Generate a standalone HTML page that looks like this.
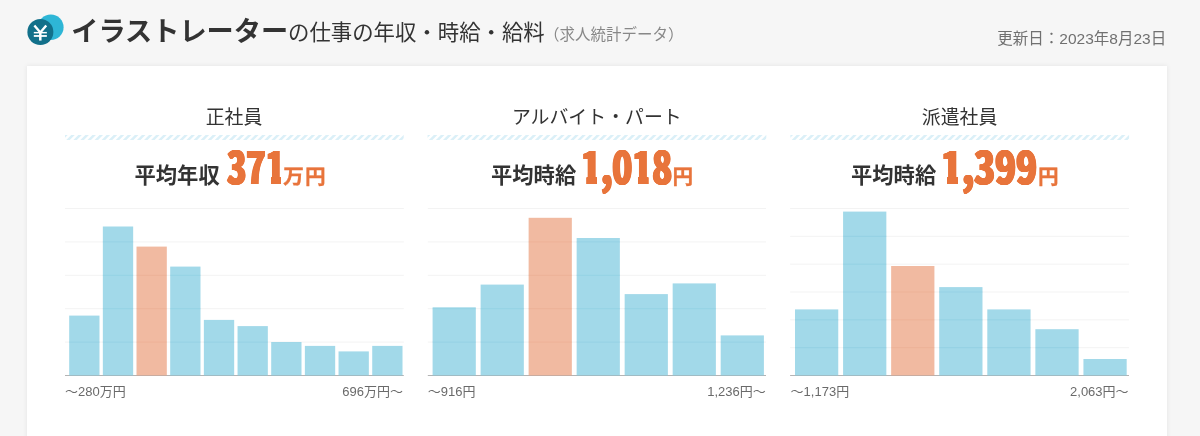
<!DOCTYPE html>
<html lang="ja">
<head>
<meta charset="utf-8">
<title>イラストレーターの仕事の年収・時給・給料</title>
<style>
html,body{margin:0;padding:0;width:1200px;height:436px;overflow:hidden}
body{width:1200px;height:436px;overflow:hidden;background:#f6f6f6;position:relative;
 font-family:"Liberation Sans","Noto Sans CJK JP",sans-serif;color:#333}
#wrap{position:absolute;left:0;top:0;width:1200px;height:436px;overflow:hidden;will-change:transform}
.abs{position:absolute;white-space:nowrap}
.yen{position:absolute;left:20px;top:5px;width:50px;height:45px}
.t1{left:71.2px;top:12px;font-size:27.2px;font-weight:700;line-height:40px;letter-spacing:0}
.t2{left:288px;top:13px;font-size:21.4px;line-height:40px}
.t3{left:544.1px;top:18px;font-size:15.5px;line-height:34px;color:#888}
.date{right:33.8px;top:29px;font-size:15.5px;line-height:20px;color:#707070}
.card{position:absolute;left:27px;top:66px;width:1140px;height:400px;background:#fff;box-shadow:0 0 5px rgba(0,0,0,.08)}
.pt{top:104px;width:338px;text-align:center;font-size:18.9px;line-height:27px;color:#333}
.stripe{position:absolute;top:135px}
.lab{position:absolute;top:165px;font-size:21.3px;font-weight:700;line-height:22px;color:#333}
.num{position:absolute;top:135px;font-family:"Noto Sans CJK JP","Liberation Sans",sans-serif;font-size:44.5px;line-height:60px;font-weight:900;color:#e8743b;transform-origin:0 0}
.one{display:inline-block;clip-path:polygon(-20% 0,120% 0,120% 69%,80% 69%,80% 100%,29% 100%,29% 69%,-20% 69%)}
.unit{position:absolute;top:166px;font-size:20.6px;font-weight:700;line-height:21px;color:#e8743b;-webkit-text-stroke:.35px #e8743b}
.chart{position:absolute}
.ax{top:383px;font-size:13px;line-height:18px;color:#6a6a6a}
</style>
</head>
<body>
<div id="wrap">
<svg class="yen" width="50" height="45" viewBox="0 0 50 45"><circle cx="30.8" cy="22.2" r="12.8" fill="#2eb6d6"/><circle cx="20.36" cy="27.06" r="13" fill="#12708a"/><g transform="translate(7.36 14.06)" fill="none" stroke="#fff" stroke-linecap="butt"><path d="M7.0 6.4 L12.95 13.4 L18.9 6.4" stroke-width="2.4"/><path d="M12.95 12.6 V21.5" stroke-width="2.5"/><path d="M6.45 13.6 H19.5" stroke-width="1.5"/><path d="M6.45 16.9 H19.5" stroke-width="1.8"/></g></svg>
<div class="abs t1">イラストレーター</div>
<div class="abs t2">の仕事の年収・時給・給料</div>
<div class="abs t3">（求人統計データ）</div>
<div class="abs date">更新日：2023年8月23日</div>
<div class="card"></div>

<div class="abs pt" style="left:65px">正社員</div>
<div class="abs pt" style="left:427.8px">アルバイト・パート</div>
<div class="abs pt" style="left:790.6px">派遣社員</div>
<svg class="stripe" style="left:65px" width="342" height="5" viewBox="0 0 342 5"><clipPath id="sc65"><rect x="0.00" y="0" width="338.7" height="5"/></clipPath><path clip-path="url(#sc65)" fill="#dbf0f8" d="M-5.84 5.0L-2.30 5.0L2.70 0L-0.84 0ZM1.23 5.0L4.77 5.0L9.77 0L6.23 0ZM8.30 5.0L11.84 5.0L16.84 0L13.30 0ZM15.37 5.0L18.91 5.0L23.91 0L20.37 0ZM22.45 5.0L25.98 5.0L30.98 0L27.45 0ZM29.52 5.0L33.05 5.0L38.05 0L34.52 0ZM36.59 5.0L40.12 5.0L45.12 0L41.59 0ZM43.66 5.0L47.19 5.0L52.19 0L48.66 0ZM50.73 5.0L54.26 5.0L59.26 0L55.73 0ZM57.80 5.0L61.34 5.0L66.34 0L62.80 0ZM64.87 5.0L68.41 5.0L73.41 0L69.87 0ZM71.94 5.0L75.48 5.0L80.48 0L76.94 0ZM79.01 5.0L82.55 5.0L87.55 0L84.01 0ZM86.08 5.0L89.62 5.0L94.62 0L91.08 0ZM93.16 5.0L96.69 5.0L101.69 0L98.16 0ZM100.23 5.0L103.76 5.0L108.76 0L105.23 0ZM107.30 5.0L110.83 5.0L115.83 0L112.30 0ZM114.37 5.0L117.90 5.0L122.90 0L119.37 0ZM121.44 5.0L124.97 5.0L129.97 0L126.44 0ZM128.51 5.0L132.05 5.0L137.05 0L133.51 0ZM135.58 5.0L139.12 5.0L144.12 0L140.58 0ZM142.65 5.0L146.19 5.0L151.19 0L147.65 0ZM149.72 5.0L153.26 5.0L158.26 0L154.72 0ZM156.79 5.0L160.33 5.0L165.33 0L161.79 0ZM163.87 5.0L167.40 5.0L172.40 0L168.87 0ZM170.94 5.0L174.47 5.0L179.47 0L175.94 0ZM178.01 5.0L181.54 5.0L186.54 0L183.01 0ZM185.08 5.0L188.61 5.0L193.61 0L190.08 0ZM192.15 5.0L195.68 5.0L200.68 0L197.15 0ZM199.22 5.0L202.76 5.0L207.76 0L204.22 0ZM206.29 5.0L209.83 5.0L214.83 0L211.29 0ZM213.36 5.0L216.90 5.0L221.90 0L218.36 0ZM220.43 5.0L223.97 5.0L228.97 0L225.43 0ZM227.50 5.0L231.04 5.0L236.04 0L232.50 0ZM234.58 5.0L238.11 5.0L243.11 0L239.58 0ZM241.65 5.0L245.18 5.0L250.18 0L246.65 0ZM248.72 5.0L252.25 5.0L257.25 0L253.72 0ZM255.79 5.0L259.32 5.0L264.32 0L260.79 0ZM262.86 5.0L266.39 5.0L271.39 0L267.86 0ZM269.93 5.0L273.47 5.0L278.47 0L274.93 0ZM277.00 5.0L280.54 5.0L285.54 0L282.00 0ZM284.07 5.0L287.61 5.0L292.61 0L289.07 0ZM291.14 5.0L294.68 5.0L299.68 0L296.14 0ZM298.21 5.0L301.75 5.0L306.75 0L303.21 0ZM305.29 5.0L308.82 5.0L313.82 0L310.29 0ZM312.36 5.0L315.89 5.0L320.89 0L317.36 0ZM319.43 5.0L322.96 5.0L327.96 0L324.43 0ZM326.50 5.0L330.03 5.0L335.03 0L331.50 0ZM333.57 5.0L337.10 5.0L342.10 0L338.57 0Z"/></svg>
<svg class="stripe" style="left:427px" width="342" height="5" viewBox="0 0 342 5"><clipPath id="sc427"><rect x="0.60" y="0" width="338.7" height="5"/></clipPath><path clip-path="url(#sc427)" fill="#dbf0f8" d="M-5.24 5.0L-1.70 5.0L3.30 0L-0.24 0ZM1.83 5.0L5.37 5.0L10.37 0L6.83 0ZM8.90 5.0L12.44 5.0L17.44 0L13.90 0ZM15.97 5.0L19.51 5.0L24.51 0L20.97 0ZM23.05 5.0L26.58 5.0L31.58 0L28.05 0ZM30.12 5.0L33.65 5.0L38.65 0L35.12 0ZM37.19 5.0L40.72 5.0L45.72 0L42.19 0ZM44.26 5.0L47.79 5.0L52.79 0L49.26 0ZM51.33 5.0L54.86 5.0L59.86 0L56.33 0ZM58.40 5.0L61.94 5.0L66.94 0L63.40 0ZM65.47 5.0L69.01 5.0L74.01 0L70.47 0ZM72.54 5.0L76.08 5.0L81.08 0L77.54 0ZM79.61 5.0L83.15 5.0L88.15 0L84.61 0ZM86.68 5.0L90.22 5.0L95.22 0L91.68 0ZM93.76 5.0L97.29 5.0L102.29 0L98.76 0ZM100.83 5.0L104.36 5.0L109.36 0L105.83 0ZM107.90 5.0L111.43 5.0L116.43 0L112.90 0ZM114.97 5.0L118.50 5.0L123.50 0L119.97 0ZM122.04 5.0L125.57 5.0L130.57 0L127.04 0ZM129.11 5.0L132.65 5.0L137.65 0L134.11 0ZM136.18 5.0L139.72 5.0L144.72 0L141.18 0ZM143.25 5.0L146.79 5.0L151.79 0L148.25 0ZM150.32 5.0L153.86 5.0L158.86 0L155.32 0ZM157.39 5.0L160.93 5.0L165.93 0L162.39 0ZM164.47 5.0L168.00 5.0L173.00 0L169.47 0ZM171.54 5.0L175.07 5.0L180.07 0L176.54 0ZM178.61 5.0L182.14 5.0L187.14 0L183.61 0ZM185.68 5.0L189.21 5.0L194.21 0L190.68 0ZM192.75 5.0L196.28 5.0L201.28 0L197.75 0ZM199.82 5.0L203.36 5.0L208.36 0L204.82 0ZM206.89 5.0L210.43 5.0L215.43 0L211.89 0ZM213.96 5.0L217.50 5.0L222.50 0L218.96 0ZM221.03 5.0L224.57 5.0L229.57 0L226.03 0ZM228.10 5.0L231.64 5.0L236.64 0L233.10 0ZM235.18 5.0L238.71 5.0L243.71 0L240.18 0ZM242.25 5.0L245.78 5.0L250.78 0L247.25 0ZM249.32 5.0L252.85 5.0L257.85 0L254.32 0ZM256.39 5.0L259.92 5.0L264.92 0L261.39 0ZM263.46 5.0L266.99 5.0L271.99 0L268.46 0ZM270.53 5.0L274.07 5.0L279.07 0L275.53 0ZM277.60 5.0L281.14 5.0L286.14 0L282.60 0ZM284.67 5.0L288.21 5.0L293.21 0L289.67 0ZM291.74 5.0L295.28 5.0L300.28 0L296.74 0ZM298.81 5.0L302.35 5.0L307.35 0L303.81 0ZM305.89 5.0L309.42 5.0L314.42 0L310.89 0ZM312.96 5.0L316.49 5.0L321.49 0L317.96 0ZM320.03 5.0L323.56 5.0L328.56 0L325.03 0ZM327.10 5.0L330.63 5.0L335.63 0L332.10 0ZM334.17 5.0L337.70 5.0L342.70 0L339.17 0Z"/></svg>
<svg class="stripe" style="left:790px" width="342" height="5" viewBox="0 0 342 5"><clipPath id="sc790"><rect x="0.40" y="0" width="338.7" height="5"/></clipPath><path clip-path="url(#sc790)" fill="#dbf0f8" d="M-5.44 5.0L-1.90 5.0L3.10 0L-0.44 0ZM1.63 5.0L5.17 5.0L10.17 0L6.63 0ZM8.70 5.0L12.24 5.0L17.24 0L13.70 0ZM15.77 5.0L19.31 5.0L24.31 0L20.77 0ZM22.85 5.0L26.38 5.0L31.38 0L27.85 0ZM29.92 5.0L33.45 5.0L38.45 0L34.92 0ZM36.99 5.0L40.52 5.0L45.52 0L41.99 0ZM44.06 5.0L47.59 5.0L52.59 0L49.06 0ZM51.13 5.0L54.66 5.0L59.66 0L56.13 0ZM58.20 5.0L61.74 5.0L66.74 0L63.20 0ZM65.27 5.0L68.81 5.0L73.81 0L70.27 0ZM72.34 5.0L75.88 5.0L80.88 0L77.34 0ZM79.41 5.0L82.95 5.0L87.95 0L84.41 0ZM86.48 5.0L90.02 5.0L95.02 0L91.48 0ZM93.56 5.0L97.09 5.0L102.09 0L98.56 0ZM100.63 5.0L104.16 5.0L109.16 0L105.63 0ZM107.70 5.0L111.23 5.0L116.23 0L112.70 0ZM114.77 5.0L118.30 5.0L123.30 0L119.77 0ZM121.84 5.0L125.37 5.0L130.37 0L126.84 0ZM128.91 5.0L132.45 5.0L137.45 0L133.91 0ZM135.98 5.0L139.52 5.0L144.52 0L140.98 0ZM143.05 5.0L146.59 5.0L151.59 0L148.05 0ZM150.12 5.0L153.66 5.0L158.66 0L155.12 0ZM157.19 5.0L160.73 5.0L165.73 0L162.19 0ZM164.27 5.0L167.80 5.0L172.80 0L169.27 0ZM171.34 5.0L174.87 5.0L179.87 0L176.34 0ZM178.41 5.0L181.94 5.0L186.94 0L183.41 0ZM185.48 5.0L189.01 5.0L194.01 0L190.48 0ZM192.55 5.0L196.08 5.0L201.08 0L197.55 0ZM199.62 5.0L203.16 5.0L208.16 0L204.62 0ZM206.69 5.0L210.23 5.0L215.23 0L211.69 0ZM213.76 5.0L217.30 5.0L222.30 0L218.76 0ZM220.83 5.0L224.37 5.0L229.37 0L225.83 0ZM227.90 5.0L231.44 5.0L236.44 0L232.90 0ZM234.98 5.0L238.51 5.0L243.51 0L239.98 0ZM242.05 5.0L245.58 5.0L250.58 0L247.05 0ZM249.12 5.0L252.65 5.0L257.65 0L254.12 0ZM256.19 5.0L259.72 5.0L264.72 0L261.19 0ZM263.26 5.0L266.79 5.0L271.79 0L268.26 0ZM270.33 5.0L273.87 5.0L278.87 0L275.33 0ZM277.40 5.0L280.94 5.0L285.94 0L282.40 0ZM284.47 5.0L288.01 5.0L293.01 0L289.47 0ZM291.54 5.0L295.08 5.0L300.08 0L296.54 0ZM298.61 5.0L302.15 5.0L307.15 0L303.61 0ZM305.69 5.0L309.22 5.0L314.22 0L310.69 0ZM312.76 5.0L316.29 5.0L321.29 0L317.76 0ZM319.83 5.0L323.36 5.0L328.36 0L324.83 0ZM326.90 5.0L330.43 5.0L335.43 0L331.90 0ZM333.97 5.0L337.50 5.0L342.50 0L338.97 0Z"/></svg>

<div class="abs lab" style="left:134.5px">平均年収</div>
<div class="abs num" style="left:227.0px;transform:scaleX(0.712);text-shadow:0.47px 0 #e8743b,-0.47px 0 #e8743b,0.94px 0 #e8743b,-0.94px 0 #e8743b,1.40px 0 #e8743b,-1.40px 0 #e8743b">37<span class="one">1</span></div>
<div class="abs unit" style="left:283.3px;letter-spacing:1.2px">万円</div>

<div class="abs lab" style="left:491px">平均時給</div>
<div class="abs num" style="left:581.2px;transform:scaleX(0.734);text-shadow:0.45px 0 #e8743b,-0.45px 0 #e8743b,0.91px 0 #e8743b,-0.91px 0 #e8743b,1.36px 0 #e8743b,-1.36px 0 #e8743b"><span class="one">1</span>,0<span class="one">1</span>8</div>
<div class="abs unit" style="left:672.5px">円</div>

<div class="abs lab" style="left:851px">平均時給</div>
<div class="abs num" style="left:941.2px;transform:scaleX(0.775);text-shadow:0.43px 0 #e8743b,-0.43px 0 #e8743b,0.86px 0 #e8743b,-0.86px 0 #e8743b,1.29px 0 #e8743b,-1.29px 0 #e8743b"><span class="one">1</span>,399</div>
<div class="abs unit" style="left:1038px">円</div>

<svg class="chart" style="left:63px;top:200px" width="346" height="180" viewBox="0 0 346 180">
<line x1="2.00" x2="340.80" y1="8.50" y2="8.50" stroke="#f3f3f3" stroke-width="1"/>
<line x1="2.00" x2="340.80" y1="41.90" y2="41.90" stroke="#f3f3f3" stroke-width="1"/>
<line x1="2.00" x2="340.80" y1="75.30" y2="75.30" stroke="#f3f3f3" stroke-width="1"/>
<line x1="2.00" x2="340.80" y1="108.70" y2="108.70" stroke="#f3f3f3" stroke-width="1"/>
<line x1="2.00" x2="340.80" y1="142.10" y2="142.10" stroke="#f3f3f3" stroke-width="1"/>
<line x1="2.00" x2="340.80" y1="175.50" y2="175.50" stroke="#b4b4b4" stroke-width="1"/>
<rect x="6.18" y="115.60" width="30.30" height="59.90" fill="rgba(126,203,224,.72)"/>
<rect x="6.18" y="141.60" width="30.30" height="1" fill="rgba(126,203,224,.3)"/>
<rect x="39.85" y="26.50" width="30.30" height="149.00" fill="rgba(126,203,224,.72)"/>
<rect x="39.85" y="41.40" width="30.30" height="1" fill="rgba(126,203,224,.3)"/>
<rect x="39.85" y="74.80" width="30.30" height="1" fill="rgba(126,203,224,.3)"/>
<rect x="39.85" y="108.20" width="30.30" height="1" fill="rgba(126,203,224,.3)"/>
<rect x="39.85" y="141.60" width="30.30" height="1" fill="rgba(126,203,224,.3)"/>
<rect x="73.52" y="46.60" width="30.30" height="128.90" fill="rgba(236,160,125,.72)"/>
<rect x="73.52" y="74.80" width="30.30" height="1" fill="rgba(236,160,125,.18)"/>
<rect x="73.52" y="108.20" width="30.30" height="1" fill="rgba(236,160,125,.18)"/>
<rect x="73.52" y="141.60" width="30.30" height="1" fill="rgba(236,160,125,.18)"/>
<rect x="107.19" y="66.60" width="30.30" height="108.90" fill="rgba(126,203,224,.72)"/>
<rect x="107.19" y="74.80" width="30.30" height="1" fill="rgba(126,203,224,.3)"/>
<rect x="107.19" y="108.20" width="30.30" height="1" fill="rgba(126,203,224,.3)"/>
<rect x="107.19" y="141.60" width="30.30" height="1" fill="rgba(126,203,224,.3)"/>
<rect x="140.86" y="119.90" width="30.30" height="55.60" fill="rgba(126,203,224,.72)"/>
<rect x="140.86" y="141.60" width="30.30" height="1" fill="rgba(126,203,224,.3)"/>
<rect x="174.53" y="126.10" width="30.30" height="49.40" fill="rgba(126,203,224,.72)"/>
<rect x="174.53" y="141.60" width="30.30" height="1" fill="rgba(126,203,224,.3)"/>
<rect x="208.20" y="142.00" width="30.30" height="33.50" fill="rgba(126,203,224,.72)"/>
<rect x="241.87" y="145.90" width="30.30" height="29.60" fill="rgba(126,203,224,.72)"/>
<rect x="275.54" y="151.40" width="30.30" height="24.10" fill="rgba(126,203,224,.72)"/>
<rect x="309.21" y="145.90" width="30.30" height="29.60" fill="rgba(126,203,224,.72)"/>
</svg>
<svg class="chart" style="left:425px;top:200px" width="346" height="180" viewBox="0 0 346 180">
<line x1="2.80" x2="341.00" y1="8.50" y2="8.50" stroke="#f3f3f3" stroke-width="1"/>
<line x1="2.80" x2="341.00" y1="41.90" y2="41.90" stroke="#f3f3f3" stroke-width="1"/>
<line x1="2.80" x2="341.00" y1="75.30" y2="75.30" stroke="#f3f3f3" stroke-width="1"/>
<line x1="2.80" x2="341.00" y1="108.70" y2="108.70" stroke="#f3f3f3" stroke-width="1"/>
<line x1="2.80" x2="341.00" y1="142.10" y2="142.10" stroke="#f3f3f3" stroke-width="1"/>
<line x1="2.80" x2="341.00" y1="175.50" y2="175.50" stroke="#b4b4b4" stroke-width="1"/>
<rect x="7.60" y="107.30" width="43.21" height="68.20" fill="rgba(126,203,224,.72)"/>
<rect x="7.60" y="108.20" width="43.21" height="1" fill="rgba(126,203,224,.3)"/>
<rect x="7.60" y="141.60" width="43.21" height="1" fill="rgba(126,203,224,.3)"/>
<rect x="55.62" y="84.60" width="43.21" height="90.90" fill="rgba(126,203,224,.72)"/>
<rect x="55.62" y="108.20" width="43.21" height="1" fill="rgba(126,203,224,.3)"/>
<rect x="55.62" y="141.60" width="43.21" height="1" fill="rgba(126,203,224,.3)"/>
<rect x="103.63" y="17.80" width="43.21" height="157.70" fill="rgba(236,160,125,.72)"/>
<rect x="103.63" y="41.40" width="43.21" height="1" fill="rgba(236,160,125,.18)"/>
<rect x="103.63" y="74.80" width="43.21" height="1" fill="rgba(236,160,125,.18)"/>
<rect x="103.63" y="108.20" width="43.21" height="1" fill="rgba(236,160,125,.18)"/>
<rect x="103.63" y="141.60" width="43.21" height="1" fill="rgba(236,160,125,.18)"/>
<rect x="151.64" y="38.00" width="43.21" height="137.50" fill="rgba(126,203,224,.72)"/>
<rect x="151.64" y="41.40" width="43.21" height="1" fill="rgba(126,203,224,.3)"/>
<rect x="151.64" y="74.80" width="43.21" height="1" fill="rgba(126,203,224,.3)"/>
<rect x="151.64" y="108.20" width="43.21" height="1" fill="rgba(126,203,224,.3)"/>
<rect x="151.64" y="141.60" width="43.21" height="1" fill="rgba(126,203,224,.3)"/>
<rect x="199.66" y="94.10" width="43.21" height="81.40" fill="rgba(126,203,224,.72)"/>
<rect x="199.66" y="108.20" width="43.21" height="1" fill="rgba(126,203,224,.3)"/>
<rect x="199.66" y="141.60" width="43.21" height="1" fill="rgba(126,203,224,.3)"/>
<rect x="247.67" y="83.40" width="43.21" height="92.10" fill="rgba(126,203,224,.72)"/>
<rect x="247.67" y="108.20" width="43.21" height="1" fill="rgba(126,203,224,.3)"/>
<rect x="247.67" y="141.60" width="43.21" height="1" fill="rgba(126,203,224,.3)"/>
<rect x="295.69" y="135.40" width="43.21" height="40.10" fill="rgba(126,203,224,.72)"/>
<rect x="295.69" y="141.60" width="43.21" height="1" fill="rgba(126,203,224,.3)"/>
</svg>
<svg class="chart" style="left:788px;top:200px" width="346" height="180" viewBox="0 0 346 180">
<line x1="2.10" x2="341.00" y1="8.50" y2="8.50" stroke="#f3f3f3" stroke-width="1"/>
<line x1="2.10" x2="341.00" y1="36.33" y2="36.33" stroke="#f3f3f3" stroke-width="1"/>
<line x1="2.10" x2="341.00" y1="64.17" y2="64.17" stroke="#f3f3f3" stroke-width="1"/>
<line x1="2.10" x2="341.00" y1="92.00" y2="92.00" stroke="#f3f3f3" stroke-width="1"/>
<line x1="2.10" x2="341.00" y1="119.83" y2="119.83" stroke="#f3f3f3" stroke-width="1"/>
<line x1="2.10" x2="341.00" y1="147.67" y2="147.67" stroke="#f3f3f3" stroke-width="1"/>
<line x1="2.10" x2="341.00" y1="175.50" y2="175.50" stroke="#b4b4b4" stroke-width="1"/>
<rect x="7.00" y="109.40" width="43.26" height="66.10" fill="rgba(126,203,224,.72)"/>
<rect x="7.00" y="119.33" width="43.26" height="1" fill="rgba(126,203,224,.3)"/>
<rect x="7.00" y="147.17" width="43.26" height="1" fill="rgba(126,203,224,.3)"/>
<rect x="55.08" y="11.60" width="43.26" height="163.90" fill="rgba(126,203,224,.72)"/>
<rect x="55.08" y="35.83" width="43.26" height="1" fill="rgba(126,203,224,.3)"/>
<rect x="55.08" y="63.67" width="43.26" height="1" fill="rgba(126,203,224,.3)"/>
<rect x="55.08" y="91.50" width="43.26" height="1" fill="rgba(126,203,224,.3)"/>
<rect x="55.08" y="119.33" width="43.26" height="1" fill="rgba(126,203,224,.3)"/>
<rect x="55.08" y="147.17" width="43.26" height="1" fill="rgba(126,203,224,.3)"/>
<rect x="103.15" y="66.00" width="43.26" height="109.50" fill="rgba(236,160,125,.72)"/>
<rect x="103.15" y="91.50" width="43.26" height="1" fill="rgba(236,160,125,.18)"/>
<rect x="103.15" y="119.33" width="43.26" height="1" fill="rgba(236,160,125,.18)"/>
<rect x="103.15" y="147.17" width="43.26" height="1" fill="rgba(236,160,125,.18)"/>
<rect x="151.22" y="87.10" width="43.26" height="88.40" fill="rgba(126,203,224,.72)"/>
<rect x="151.22" y="91.50" width="43.26" height="1" fill="rgba(126,203,224,.3)"/>
<rect x="151.22" y="119.33" width="43.26" height="1" fill="rgba(126,203,224,.3)"/>
<rect x="151.22" y="147.17" width="43.26" height="1" fill="rgba(126,203,224,.3)"/>
<rect x="199.29" y="109.40" width="43.26" height="66.10" fill="rgba(126,203,224,.72)"/>
<rect x="199.29" y="119.33" width="43.26" height="1" fill="rgba(126,203,224,.3)"/>
<rect x="199.29" y="147.17" width="43.26" height="1" fill="rgba(126,203,224,.3)"/>
<rect x="247.36" y="129.20" width="43.26" height="46.30" fill="rgba(126,203,224,.72)"/>
<rect x="247.36" y="147.17" width="43.26" height="1" fill="rgba(126,203,224,.3)"/>
<rect x="295.43" y="159.00" width="43.26" height="16.50" fill="rgba(126,203,224,.72)"/>
</svg>

<div class="abs ax" style="left:65px">〜280万円</div>
<div class="abs ax" style="left:65px;width:338px;text-align:right">696万円〜</div>
<div class="abs ax" style="left:427.8px">〜916円</div>
<div class="abs ax" style="left:427.8px;width:338px;text-align:right">1,236円〜</div>
<div class="abs ax" style="left:790.6px">〜1,173円</div>
<div class="abs ax" style="left:790.6px;width:338px;text-align:right">2,063円〜</div>
</div>
</body>
</html>
